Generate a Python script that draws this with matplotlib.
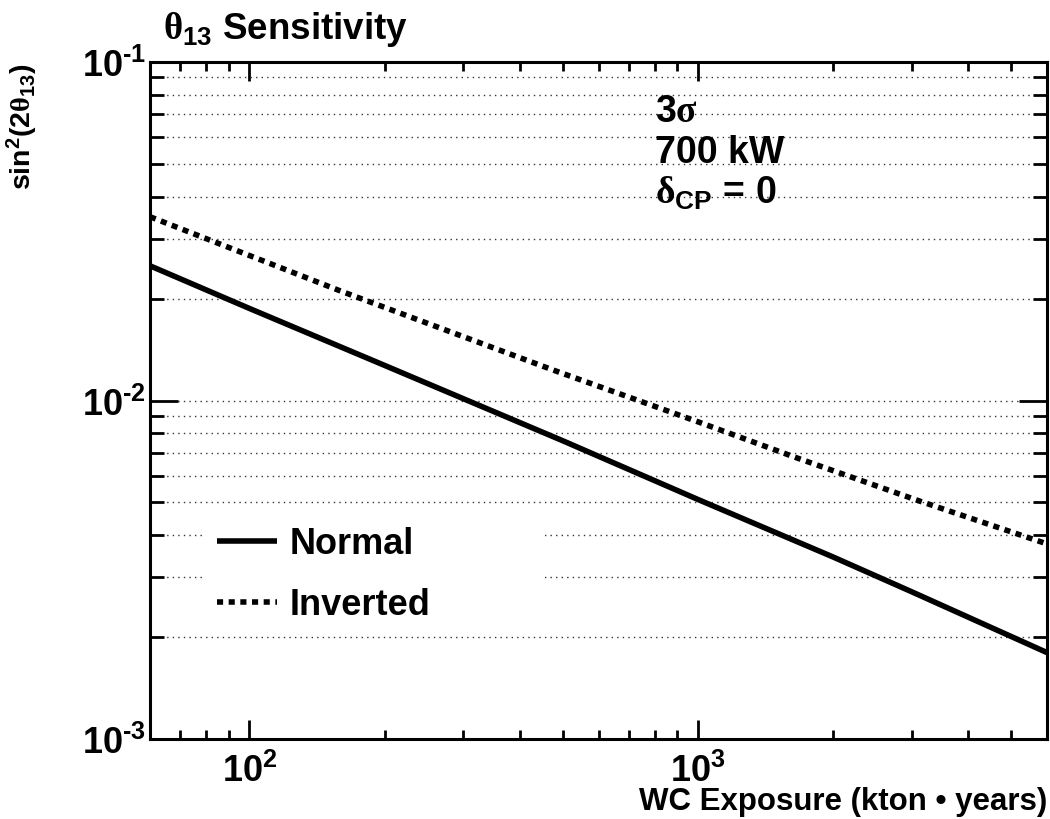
import matplotlib
matplotlib.use("Agg")
import matplotlib.pyplot as plt
import numpy as np
from matplotlib.patches import Rectangle
from matplotlib.ticker import LogLocator, NullFormatter, FuncFormatter

# WC exposure (kton * years) and 3 sigma theta13 sensitivity
exposure_normal = [60, 100, 200, 500, 1000, 2000, 3000, 6000]
sens_normal = [0.0250, 0.0187, 0.0127, 0.0076, 0.0051, 0.00345, 0.00272, 0.0018]

exposure_inverted = [60, 159, 474, 1000, 1660, 3100, 6000]
sens_inverted = [0.0349, 0.0211, 0.01232, 0.00865, 0.00677, 0.00506, 0.00377]

plt.rcParams['font.family'] = ['Liberation Sans', 'DejaVu Sans']
plt.rcParams['font.weight'] = 'bold'
plt.rcParams['mathtext.fontset'] = 'custom'
plt.rcParams['mathtext.rm'] = 'Liberation Sans:bold'
plt.rcParams['mathtext.it'] = 'Liberation Sans:bold'
plt.rcParams['mathtext.bf'] = 'Liberation Sans:bold'
plt.rcParams['mathtext.sf'] = 'Liberation Serif'

fig = plt.figure(figsize=(10.5, 8.2), dpi=100)
ax = fig.add_axes([150/1050, 1-740/820, 897/1050, 677/820])

ax.plot(exposure_normal, sens_normal, color='black', lw=4, solid_capstyle='butt',
        solid_joinstyle='round', label='Normal', zorder=3)
ax.plot(exposure_inverted, sens_inverted, color='black', lw=4,
        linestyle=(0, (1.1, 1.0)), dash_capstyle='butt', label='Inverted', zorder=3)

ax.set_xscale('log')
ax.set_yscale('log')
ax.set_xlim(60, 6000)
ax.set_ylim(1e-3, 1e-1)


def pow10(v, pos):
    e = int(round(np.log10(v)))
    if e < 0:
        return r'$10^{\text{-}%d}$' % (-e)
    return r'$10^{%d}$' % e


ax.yaxis.set_major_locator(LogLocator(base=10))
ax.yaxis.set_minor_locator(LogLocator(base=10, subs=np.arange(2, 10)))
ax.xaxis.set_minor_locator(LogLocator(base=10, subs=np.arange(2, 10)))
ax.xaxis.set_major_formatter(FuncFormatter(pow10))
ax.yaxis.set_major_formatter(FuncFormatter(pow10))
ax.xaxis.set_minor_formatter(NullFormatter())
ax.yaxis.set_minor_formatter(NullFormatter())

ax.yaxis.grid(True, which='both', color='#333333', lw=1, linestyle=(0, (1, 3)))
ax.set_axisbelow(True)

for s in ax.spines.values():
    s.set_linewidth(2.2)

ax.tick_params(which='both', direction='in', top=True, right=True, width=2)
ax.tick_params(axis='y', which='major', length=20, pad=3, labelsize=26)
ax.tick_params(axis='y', which='minor', length=10)
ax.tick_params(axis='x', which='major', length=14, pad=10, labelsize=26)
ax.tick_params(axis='x', which='minor', length=6.5)

# titles
fig.text(163/1050, 1-39/820, r'$\mathsf{\theta}_{13}$ Sensitivity', fontsize=26.5,
         fontweight='bold', ha='left', va='baseline')
fig.text(22/1050, 1-63/820, r'sin$^{2}$(2$\mathsf{\theta}_{13}$)', fontsize=20.5,
         fontweight='bold', rotation=90, ha='center', va='top')
fig.text(1047/1050, 1-810/820, 'WC Exposure (kton \u2022 years)', fontsize=22.5,
         fontweight='bold', ha='right', va='baseline')

# running conditions
ax.text(655/1050, 1-122/820, r'3$\mathsf{\sigma}$', transform=fig.transFigure,
        fontsize=27, fontweight='bold', va='baseline')
ax.text(655/1050, 1-163/820, '700 kW', transform=fig.transFigure,
        fontsize=27, fontweight='bold', va='baseline')
ax.text(655/1050, 1-204/820, r'$\mathsf{\delta}_{\mathrm{CP}}$ = 0', transform=fig.transFigure,
        fontsize=27, fontweight='bold', va='baseline')

# legend box
ax.add_patch(Rectangle((205/1050, 1-628/820), 340/1050, 108/820,
                       transform=fig.transFigure, facecolor='white',
                       edgecolor='none', zorder=2))
leg = ax.legend(loc='upper left', bbox_to_anchor=(210/1050, 1-520/820),
                bbox_transform=fig.transFigure, fontsize=26, frameon=False,
                handlelength=1.65, handletextpad=0.35,
                labelspacing=0.72, borderpad=0.2, borderaxespad=0)
leg.set_zorder(4)

fig.savefig('out.png', dpi=100)
